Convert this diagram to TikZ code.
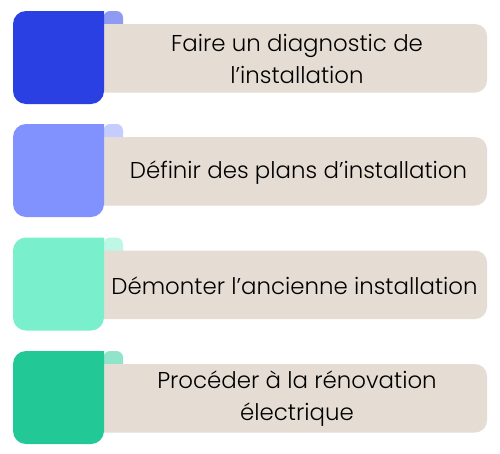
\documentclass[tikz,border=0pt]{standalone}
\usepackage{fontspec}
\setmainfont{Poppins}[UprightFont=* Light]
\definecolor{beige}{HTML}{E5DDD3}
\definecolor{sqA}{HTML}{2A40E2}
\definecolor{tabA}{HTML}{8F9BF2}
\definecolor{sqB}{HTML}{8192FF}
\definecolor{tabB}{HTML}{C5CCFF}
\definecolor{sqC}{HTML}{7AEFCC}
\definecolor{tabC}{HTML}{BEF7E5}
\definecolor{sqD}{HTML}{22C997}
\definecolor{tabD}{HTML}{8FE4CA}
\begin{document}
\begin{tikzpicture}[x=1pt,y=-1pt,
  bar/.style={fill=beige,rounded corners=12pt},
  tabbox/.style={rounded corners=6.5pt},
  lbl/.style={font=\fontsize{22.9}{32}\selectfont,align=center,text=black,inner sep=0pt}]
\useasboundingbox[fill=white] (0,0) rectangle (500,453);
\foreach \t/\sq/\tb/\n in {11/sqA/tabA/1,124/sqB/tabB/2,237.5/sqC/tabC/3,351/sqD/tabD/4}{
  \fill[\tb,tabbox] (103.5,\t) rectangle (123,\t+22);
  \fill[bar] (90,\t+13) rectangle (487,\t+81.5);
  \fill[\sq] (104,\t) -- (104,\t+80) arc[start angle=0,end angle=90,radius=13] -- (26,\t+93)
     arc[start angle=90,end angle=180,radius=13] -- (13,\t+13)
     arc[start angle=180,end angle=270,radius=13] -- cycle;
  \coordinate (c\n) at (297,\t+47.5);
}
\node[lbl] (t1) at (c1) {Faire un diagnostic de\\l’installation};
\node[lbl] (t2) at (298.5,172.5) {Définir des plans d’installation};
\node[lbl] (t3) at (294.5,285.5) {Démonter l’ancienne installation};
\node[lbl] (t4) at (c4) {Procéder à la rénovation\\électrique};
\end{tikzpicture}
\end{document}
